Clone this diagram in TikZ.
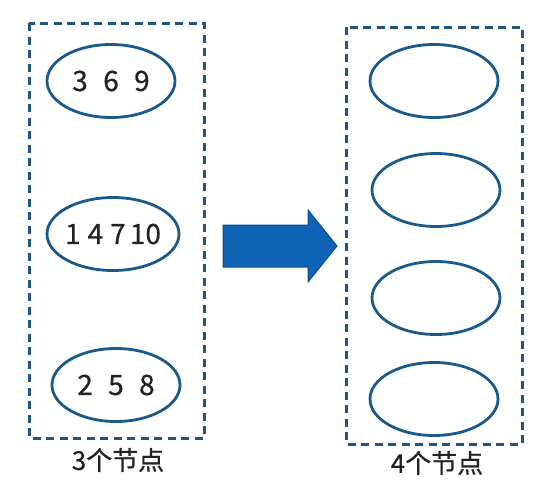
\documentclass[tikz,border=0pt]{standalone}
\usepackage{fontspec}
\setmainfont{Noto Sans CJK SC}[FakeBold=0.6]
\usepackage{tikz}
\usetikzlibrary{shapes.geometric, positioning}
\definecolor{boxline}{HTML}{1F5582}
\definecolor{ringline}{HTML}{1A5A8A}
\definecolor{arrowfill}{HTML}{0F63B4}
\definecolor{arrowline}{HTML}{0B4C8C}
\definecolor{numtext}{HTML}{222222}
\tikzset{
	group/.style={draw=boxline, line width=3pt, dash pattern=on 8pt off 5.5pt},
	ring/.style={draw=ringline, line width=2.8pt, ellipse, minimum width=128pt, minimum height=73pt, inner sep=0pt, text=numtext, font=\fontsize{28}{28}\selectfont},
	caption/.style={text=numtext, font=\fontsize{26}{26}\selectfont}
}
\newcommand{\gap}{\hspace{0.55em}}
\begin{document}
\begin{tikzpicture}[x=1pt, y=-1pt]
			\useasboundingbox (0,0) rectangle (545,482);
			% Groups
			\draw[group] (29,23) rectangle (204,438);
			\draw[group] (346,27) rectangle (522,444);
			
			% Old nodes
			\node[ring] (old1) at (111,81) {3\gap 6\gap 9};
			\node[ring, minimum width=132pt] (old2) at (113,234) {\makebox[0pt]{1\hspace{0.25em}4\hspace{0.25em}7\hspace{0.15em}10}};
			\node[ring] (old3) at (116,385) {2\gap 5\gap 8};
			\node[caption] (oldlabel) at (118,460) {3个节点};
			
			% New nodes
			\foreach \i/\x/\y in {1/434/81, 2/436/190, 3/436/298, 4/434/399} {
				\node[ring] (new\i) at (\x,\y) {};
			}
			\node[caption] (newlabel) at (437,463) {4个节点};
			
			% Arrow
			\filldraw[fill=arrowfill, draw=arrowline, line width=1pt, line join=miter]
				(223,225) -- (308,225) -- (308,210) -- (337,246) -- (308,282) -- (308,267) -- (223,267) -- cycle;
		\end{tikzpicture}
\end{document}
